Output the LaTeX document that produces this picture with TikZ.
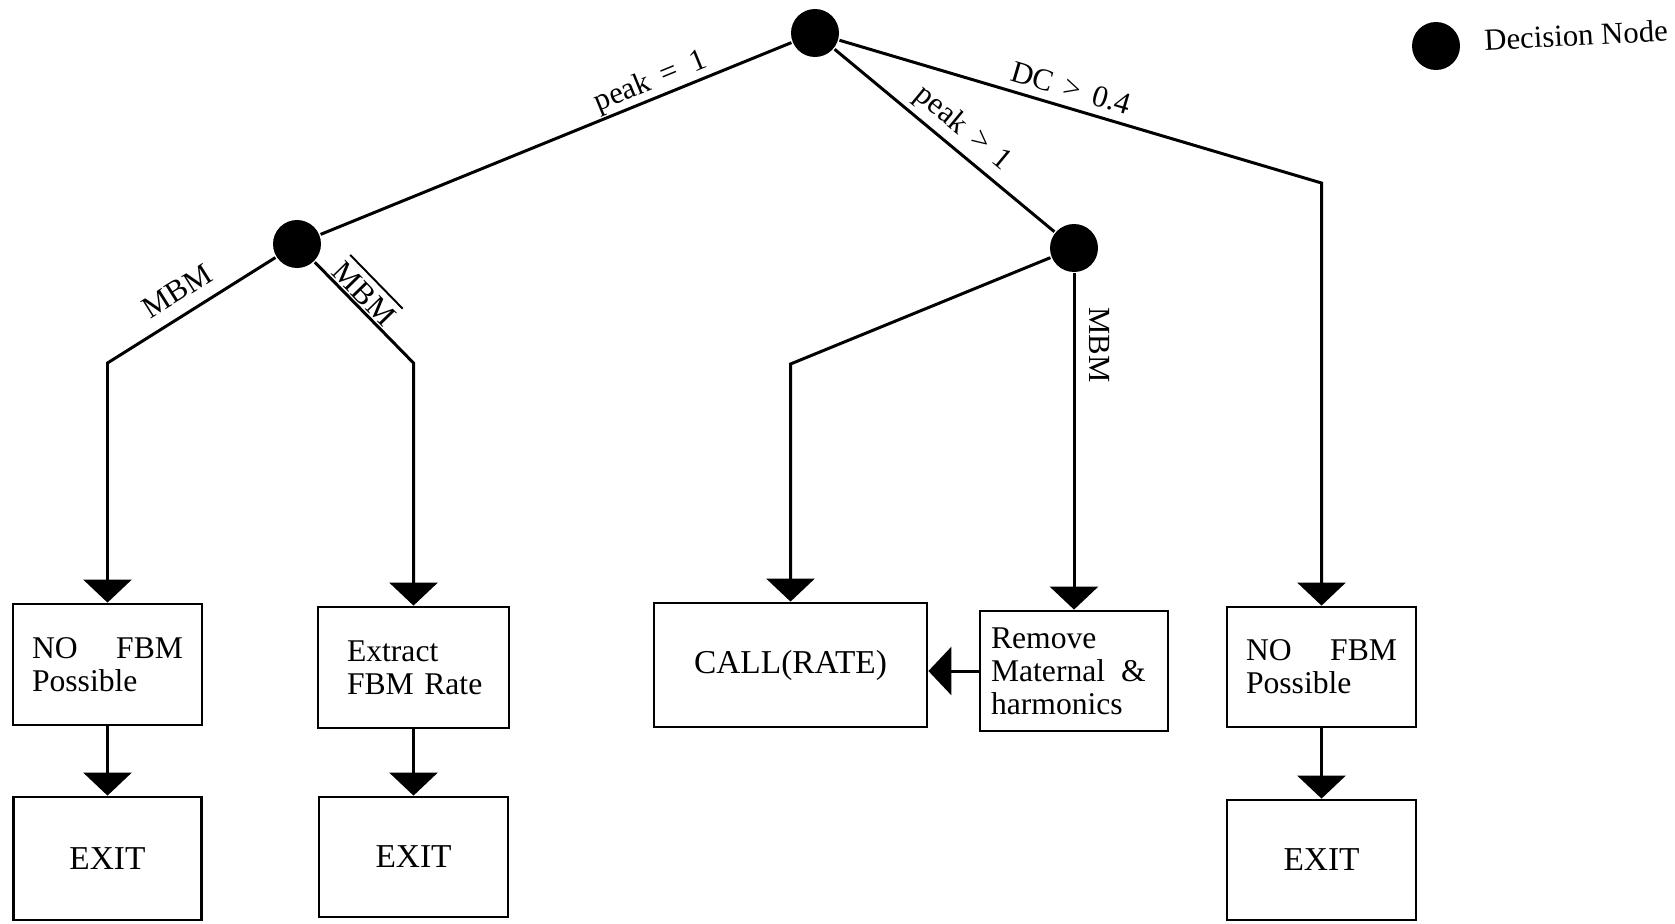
\documentclass[tikz,border=0pt]{standalone}
\usepackage{fontspec}
\setmainfont{Liberation Serif}
\usetikzlibrary{arrows.meta}
% text with a bar drawn a little above it
\newcommand{\ovbar}[1]{\setbox0\hbox{#1}\vbox{\hrule width\wd0 height 1.1pt\kern3.5pt\box0}}
\begin{document}
\begin{tikzpicture}[x=0.02cm,y=-0.02cm,
  font=\fontsize{17.5pt}{18.7pt}\selectfont,
  line width=1.7pt,
  dec/.style={circle,fill=black,draw=none,minimum size=0.96cm,inner sep=0pt},
  box/.style={draw,rectangle,line width=1.6pt,inner ysep=0pt,align=left,
    font=\fontsize{18pt}{18.7pt}\selectfont},
  exitbox/.style={draw,rectangle,line width=1.6pt,align=center,minimum width=3.78cm,minimum height=2.42cm,
    font=\fontsize{19pt}{19pt}\selectfont},
  flow/.style={-{Triangle[length=0.46cm,width=0.96cm]}},
  lab/.style={inner sep=0pt}]
\fill[white] (0,0) rectangle (1675,923);
\useasboundingbox (0,0) rectangle (1675,923);

% decision nodes
\node[dec] (A) at (815,33) {};
\node[dec] (B) at (297,244) {};
\node[dec] (C) at (1074,248) {};

% legend
\node[dec] (key) at (1436,46) {};
\node[lab,rotate=3] (keytext) at (1576,35) {Decision Node};

% action boxes
\node[box,minimum width=3.78cm,minimum height=2.42cm,text width=3.02cm,inner xsep=0.38cm]
  (nofbmL) at (107.5,664.5) {NO\hfill FBM\\Possible};
\node[box,minimum width=3.82cm,minimum height=2.42cm,text width=2.86cm,inner xsep=0.48cm]
  (extract) at (413.5,667.5) {\hspace*{0.1cm}Extract\\\hspace*{0.1cm}FBM Rate};
\node[box,align=center,minimum width=5.46cm,minimum height=2.48cm,font=\fontsize{19pt}{19pt}\selectfont]
  (call) at (790.5,665) {CALL(RATE)};
\node[box,minimum width=3.76cm,minimum height=2.40cm,text width=3.32cm,inner xsep=0.22cm]
  (remove) at (1074,671) {Remove\\Maternal\hspace{0.5em}\&\\harmonics};
\node[box,minimum width=3.78cm,minimum height=2.40cm,text width=3.02cm,inner xsep=0.38cm]
  (nofbmR) at (1321.5,667) {NO\hfill FBM\\Possible};

% exit boxes
\node[exitbox,minimum width=3.76cm,minimum height=2.46cm] (exitL) at (107.5,858.5) {EXIT};
\node[exitbox,minimum height=2.40cm] (exitM) at (413.5,857) {EXIT};
\node[exitbox,minimum height=2.40cm] (exitR) at (1321.5,860) {EXIT};

% bend points of the branches
\coordinate (k1) at (107.5,363);
\coordinate (k2) at (413.5,363);
\coordinate (k3) at (790.5,364);
\coordinate (k4) at (1321.5,183);

% branches
\draw (A) -- (B);
\draw (A) -- (C);
\draw[flow] (A) -- (k4) -- (nofbmR);
\draw[flow] (B) -- (k1) -- (nofbmL);
\draw[flow] (B) -- (k2) -- (extract);
\draw[flow] (C) -- (k3) -- (call);
\draw[flow] (C) -- (remove);
\draw[flow] (remove.west) -- (remove.west -| call.east);
\draw[flow] (nofbmL) -- (exitL);
\draw[flow] (extract) -- (exitM);
\draw[flow] (nofbmR) -- (exitR);

% branch labels
\node[lab,rotate=22.2] (lpeak1) at (651,82) {peak\hspace{0.4em}=\hspace{0.5em}1};
\node[lab,rotate=-16.5] (ldc) at (1071,88) {DC\hspace{0.4em}>\hspace{0.4em}0.4};
\node[lab,rotate=-39.6] (lpeakg) at (963,129) {peak\hspace{0.4em}>\hspace{0.4em}1};
\node[lab,rotate=32.2] (lmbm) at (177,291) {MBM};
\node[lab,rotate=-45.7] (lnmbm) at (367,291) {\ovbar{MBM}};
\node[lab,rotate=-90] (lmbmv) at (1100,345) {MBM};
\end{tikzpicture}
\end{document}
